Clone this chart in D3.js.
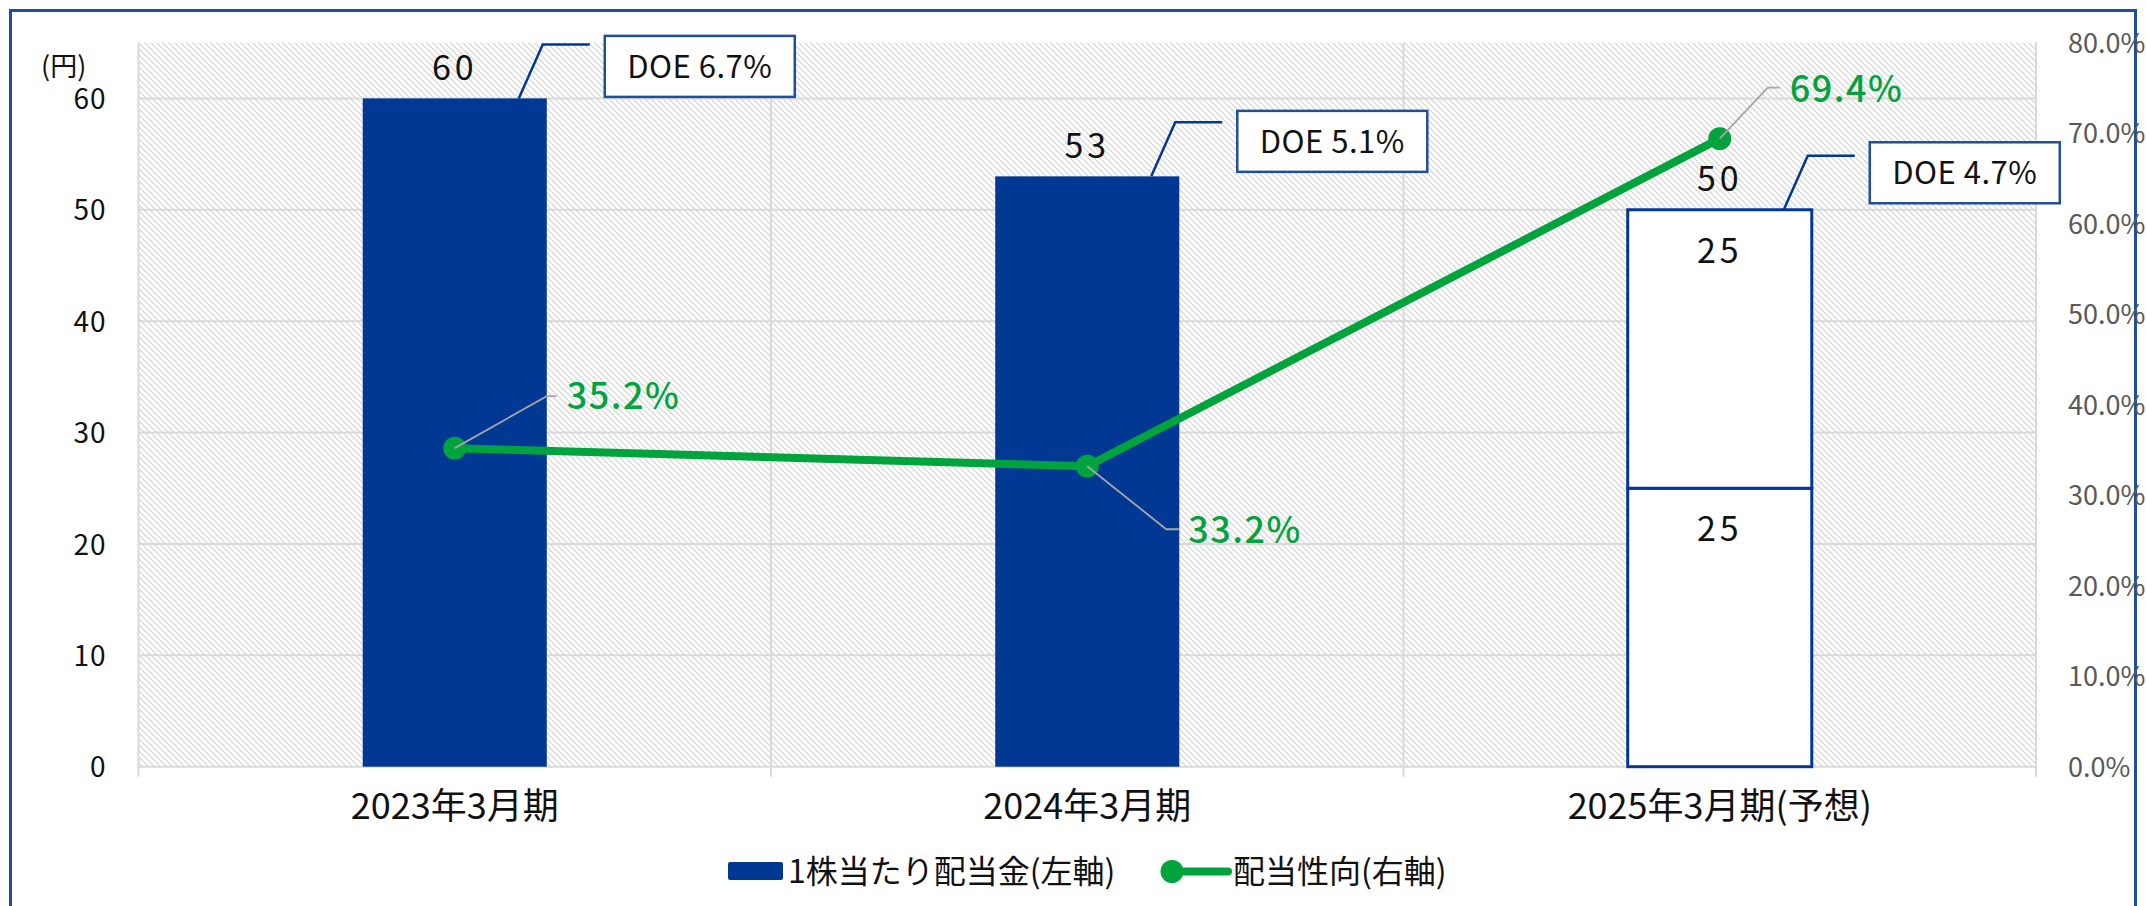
<!DOCTYPE html>
<html lang="ja">
<head>
<meta charset="utf-8">
<title>配当金と配当性向</title>
<script src="https://cdn.jsdelivr.net/npm/d3@7/dist/d3.min.js"></script>
<style>
  html, body { margin: 0; padding: 0; background: #ffffff; }
  svg { display: block; font-family: "Noto Sans CJK JP", "Noto Sans", sans-serif; }
</style>
</head>
<body>
<svg id="chart" width="2146" height="906"></svg>
<script>
// ---- data ----
const categories = ["2023年3月期", "2024年3月期", "2025年3月期(予想)"];
const dividends = [60, 53, 50];            // 1株当たり配当金 (円)
const isForecast = [false, false, true];
const forecastParts = [25, 25];            // 中間 / 期末 (予想)
const payoutRatio = [35.2, 33.2, 69.4];    // 配当性向 (%)
const doeValues = [6.7, 5.1, 4.7];         // DOE (%)
const leftTicks = [0, 10, 20, 30, 40, 50, 60];
const rightTicks = [0, 10, 20, 30, 40, 50, 60, 70, 80];
const legendLabels = ["1株当たり配当金(左軸)", "配当性向(右軸)"];

// ---- layout ----
const W = 2146, H = 906;
const plot = { left: 138.5, right: 2036, top: 42.7, bottom: 766.7 };
const BLUE = "#003893";
const GREEN = "#00a33c";
const GRID = "#d9d9d9";
const FONT = '"Noto Sans CJK JP", "Noto Sans", sans-serif';

// DOE callout: vertical centre of each box relative to its bar top
const doeBoxCenterDy = [-32, -35, -37];

// percent-label placement relative to each marker (dx to label start, dy to label middle)
const pctLabelPlacement = [
  { dx: 112, dy: -52, elbow: [92, -52], end: [102, -52] },
  { dx: 101, dy: 64,  elbow: [79, 63],  end: [92, 63] },
  { dx: 70,  dy: -50, elbow: [48, -51], end: [60, -51] }
];

const svg = d3.select("#chart");

const x = d3.scaleBand().domain(categories).range([plot.left, plot.right]).padding(0);
const barW = x.bandwidth() * 0.291;
const cx = c => x(c) + x.bandwidth() / 2;
const yL = d3.scaleLinear().domain([0, 65]).range([plot.bottom, plot.top]);
const yR = d3.scaleLinear().domain([0, 80]).range([plot.bottom, plot.top]);

// hatched plot background (light downward diagonal)
const defs = svg.append("defs");
const pat = defs.append("pattern")
  .attr("id", "hatch").attr("patternUnits", "userSpaceOnUse")
  .attr("width", 6).attr("height", 6);
pat.append("rect").attr("width", 6).attr("height", 6).attr("fill", "#ffffff");
pat.append("path")
  .attr("d", "M0,0 L6,6 M-1,5 L1,7 M5,-1 L7,1")
  .attr("stroke", "#d2d2d2").attr("stroke-width", 1.1);

// outer frame
svg.append("rect")
  .attr("x", 10.5).attr("y", 10.5).attr("width", W - 21).attr("height", H + 40)
  .attr("fill", "none").attr("stroke", "#1f4e9e").attr("stroke-width", 3);

svg.append("rect")
  .attr("x", plot.left).attr("y", plot.top)
  .attr("width", plot.right - plot.left).attr("height", plot.bottom - plot.top)
  .attr("fill", "url(#hatch)");

// horizontal gridlines
svg.append("g").selectAll("line").data(leftTicks).join("line")
  .attr("x1", plot.left).attr("x2", plot.right)
  .attr("y1", d => yL(d)).attr("y2", d => yL(d))
  .attr("stroke", GRID).attr("stroke-width", 2);

// vertical category dividers (with outside ticks)
const dividers = categories.map(c => x(c)).concat([plot.right]);
svg.append("g").selectAll("line").data(dividers).join("line")
  .attr("x1", d => d).attr("x2", d => d)
  .attr("y1", plot.top).attr("y2", plot.bottom + 10)
  .attr("stroke", GRID).attr("stroke-width", 2);

// left axis
const axL = svg.append("g")
  .attr("transform", `translate(${plot.left - 32},0)`)
  .call(d3.axisLeft(yL).tickValues(leftTicks).tickSize(0).tickPadding(0));
axL.select(".domain").remove();
axL.selectAll("text")
  .attr("font-family", FONT).attr("font-size", 28).attr("fill", "#111111")
  .attr("letter-spacing", 1)
  .attr("dy", "0.36em");

svg.append("text")
  .attr("x", 41).attr("y", 66).attr("dy", "0.36em")
  .attr("font-family", FONT).attr("font-size", 27).attr("fill", "#111111")
  .text("(円)");

// right axis
const axR = svg.append("g")
  .attr("transform", `translate(${plot.right + 32},0)`)
  .call(d3.axisRight(yR).tickValues(rightTicks).tickSize(0).tickPadding(0)
    .tickFormat(d => d.toFixed(1) + "%"));
axR.select(".domain").remove();
axR.selectAll("text")
  .attr("font-family", FONT).attr("font-size", 27).attr("fill", "#595959")
  .attr("dy", "0.36em");

// category axis labels
svg.append("g").selectAll("text").data(categories).join("text")
  .attr("x", d => cx(d)).attr("y", 806).attr("dy", "0.36em")
  .attr("text-anchor", "middle")
  .attr("font-family", FONT).attr("font-size", 36).attr("fill", "#111111")
  .text(d => d);

// bars
const barData = categories.map((c, i) => ({ c, i, v: dividends[i], f: isForecast[i], doe: doeValues[i] }));
const bars = svg.append("g");
barData.forEach(d => {
  const x0 = cx(d.c) - barW / 2;
  if (!d.f) {
    bars.append("rect")
      .attr("x", x0).attr("y", yL(d.v))
      .attr("width", barW).attr("height", yL(0) - yL(d.v))
      .attr("fill", BLUE);
  } else {
    let acc = 0;
    forecastParts.forEach(p => {
      const top = acc + p;
      bars.append("rect")
        .attr("x", x0).attr("y", yL(top))
        .attr("width", barW).attr("height", yL(acc) - yL(top))
        .attr("fill", "#ffffff").attr("stroke", BLUE).attr("stroke-width", 3);
      bars.append("text")
        .attr("x", cx(d.c)).attr("y", yL(top) + 41).attr("dy", "0.36em")
        .attr("text-anchor", "middle")
        .attr("font-family", FONT).attr("font-size", 34).attr("letter-spacing", 4)
        .attr("fill", "#111111")
        .text(p);
      acc = top;
    });
  }
  // total label above bar
  bars.append("text")
    .attr("x", cx(d.c)).attr("y", yL(d.v) - 31).attr("dy", "0.36em")
    .attr("text-anchor", "middle")
    .attr("font-family", FONT).attr("font-size", 34).attr("letter-spacing", 4)
    .attr("fill", "#111111")
    .text(d.v);

  // DOE callout with leader
  const top = yL(d.v);
  const sx = cx(d.c) + 64, ex = sx + 24, ey = top - 54;
  const boxW = 190, boxH = 61;
  const boxX = cx(d.c) + barW / 2 + 58, boxY = top + doeBoxCenterDy[d.i] - boxH / 2;
  bars.append("path")
    .attr("d", `M${sx},${top} L${ex},${ey} L${boxX - 15},${ey}`)
    .attr("fill", "none").attr("stroke", BLUE).attr("stroke-width", 2.5);
  bars.append("rect")
    .attr("x", boxX).attr("y", boxY).attr("width", boxW).attr("height", boxH)
    .attr("fill", "#ffffff").attr("stroke", "#1f4e9e").attr("stroke-width", 2.5);
  bars.append("text")
    .attr("x", boxX + boxW / 2).attr("y", boxY + boxH / 2).attr("dy", "0.36em")
    .attr("text-anchor", "middle")
    .attr("font-family", FONT).attr("font-size", 31).attr("letter-spacing", 0.5)
    .attr("fill", "#111111")
    .text(`DOE ${d.doe.toFixed(1)}%`);
});

// payout ratio line
const pts = categories.map((c, i) => ({ c, v: payoutRatio[i], x: cx(c), y: yR(payoutRatio[i]) }));
svg.append("path")
  .datum(pts)
  .attr("d", d3.line().x(d => d.x).y(d => d.y))
  .attr("fill", "none").attr("stroke", GREEN).attr("stroke-width", 8)
  .attr("stroke-linejoin", "round");

svg.append("g").selectAll("circle").data(pts).join("circle")
  .attr("cx", d => d.x).attr("cy", d => d.y).attr("r", 11.5)
  .attr("fill", GREEN);

// percent labels with leaders
pts.forEach((p, i) => {
  const o = pctLabelPlacement[i];
  svg.append("path")
    .attr("d", `M${p.x},${p.y} L${p.x + o.elbow[0]},${p.y + o.elbow[1]} L${p.x + o.end[0]},${p.y + o.end[1]}`)
    .attr("fill", "none").attr("stroke", "#a6a6a6").attr("stroke-width", 1.8);
  svg.append("text")
    .attr("x", p.x + o.dx).attr("y", p.y + o.dy).attr("dy", "0.36em")
    .attr("font-family", FONT).attr("font-size", 36).attr("font-weight", 500)
    .attr("letter-spacing", 1.5)
    .attr("fill", GREEN)
    .text(p.v.toFixed(1) + "%");
});

// legend
const lg = svg.append("g");
lg.append("rect")
  .attr("x", 728).attr("y", 862).attr("width", 55).attr("height", 18).attr("rx", 2)
  .attr("fill", BLUE);
lg.append("text")
  .attr("x", 788).attr("y", 871).attr("dy", "0.36em")
  .attr("font-family", FONT).attr("font-size", 32).attr("fill", "#111111")
  .text(legendLabels[0]);
lg.append("line")
  .attr("x1", 1172).attr("x2", 1228).attr("y1", 871.5).attr("y2", 871.5)
  .attr("stroke", GREEN).attr("stroke-width", 8).attr("stroke-linecap", "round");
lg.append("circle")
  .attr("cx", 1172).attr("cy", 871.5).attr("r", 11.5).attr("fill", GREEN);
lg.append("text")
  .attr("x", 1233).attr("y", 871).attr("dy", "0.36em")
  .attr("font-family", FONT).attr("font-size", 32).attr("fill", "#111111")
  .text(legendLabels[1]);
</script>
</body>
</html>
